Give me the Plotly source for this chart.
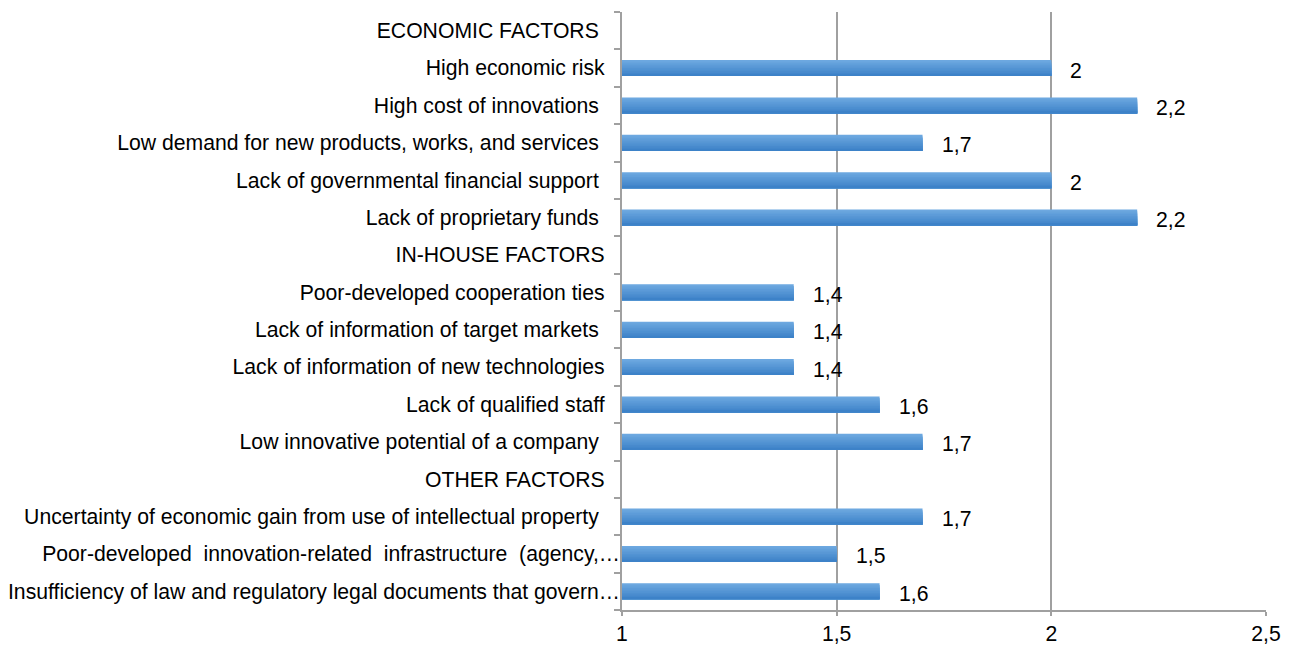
import plotly.graph_objects as go

categories = [
    "ECONOMIC FACTORS",
    "High economic risk",
    "High cost of innovations",
    "Low demand for new products, works, and services",
    "Lack of governmental financial support",
    "Lack of proprietary funds",
    "IN-HOUSE FACTORS",
    "Poor-developed cooperation ties",
    "Lack of information of target markets",
    "Lack of information of new technologies",
    "Lack of qualified staff",
    "Low innovative potential of a company",
    "OTHER FACTORS",
    "Uncertainty of economic gain from use of intellectual property",
    "Poor-developed \u00a0innovation-related \u00a0infrastructure \u00a0(agency,\u2026",
    "Insufficiency of law and regulatory legal documents that govern\u2026",
]
values = [None, 2.0, 2.2, 1.7, 2.0, 2.2, None, 1.4, 1.4, 1.4, 1.6, 1.7, None, 1.7, 1.5, 1.6]
x_ticks = [1, 1.5, 2, 2.5]
x_tick_labels = ["1", "1,5", "2", "2,5"]

# trailing padding (in non-breaking spaces) to mimic label offsets from axis
label_pad = [3, 2, 3, 3, 3, 3, 2, 2, 3, 2, 2, 3, 2, 3, 0, 0]

BASE = 1.0
FONT = "Liberation Sans, Arial, sans-serif"
FS = 21.2

fig = go.Figure()

# gradient bars via overlapping stripes (top light -> bottom dark)
bar_w = 0.43
n = 10
top = (0x6d, 0xa8, 0xe0)
bot = (0x3d, 0x82, 0xc8)
for i in range(n):
    t = i / (n - 1)
    col = "rgb(%d,%d,%d)" % tuple(round(top[k] + (bot[k] - top[k]) * t) for k in range(3))
    fig.add_trace(go.Bar(
        y=categories,
        x=[(v - BASE) if v is not None else None for v in values],
        base=BASE,
        orientation="h",
        width=bar_w - i * bar_w / n,
        offset=-bar_w / 2 + i * bar_w / n,
        marker=dict(color=col, line=dict(width=0)),
        hoverinfo="skip",
        showlegend=False,
    ))

for c, v in zip(categories, values):
    if v is None:
        continue
    fig.add_annotation(x=v, y=c, text=("%g" % v).replace(".", ","), showarrow=False,
                       xanchor="left", yanchor="middle", xshift=17, yshift=-2,
                       font=dict(family=FONT, size=FS, color="#000"))


def pad(p):
    return "" if p == 0 else "\u00a0" * p + "\u2006"


fig.update_layout(
    width=1286, height=641,
    margin=dict(l=614, r=28, t=4, b=39, autoexpand=False),
    paper_bgcolor="white", plot_bgcolor="white",
    barmode="overlay",
    separators=",.",
    font=dict(family=FONT, size=FS, color="#000"),
    xaxis=dict(range=[1, 2.5], tickvals=x_ticks, ticktext=x_tick_labels,
               showgrid=True, gridcolor="#a0a0a0", gridwidth=1.5,
               showline=True, linecolor="#a0a0a0", linewidth=1.5,
               ticks="outside", ticklen=4, tickcolor="#a0a0a0", tickwidth=1.5,
               zeroline=False, tickfont=dict(size=FS), automargin=False),
    yaxis=dict(type="category", categoryorder="array", categoryarray=categories,
               tickmode="array", tickvals=categories,
               ticktext=[c + pad(p) for c, p in zip(categories, label_pad)],
               range=[15.5, -0.5],
               showline=True, linecolor="#a0a0a0", linewidth=1.5,
               ticks="outside", ticklen=6, tickcolor="#a0a0a0", tickwidth=1.5,
               tickson="boundaries", showgrid=False, zeroline=False,
               ticklabelstandoff=-4, tickfont=dict(size=FS), automargin=False),
)

fig.write_html("out.html")
